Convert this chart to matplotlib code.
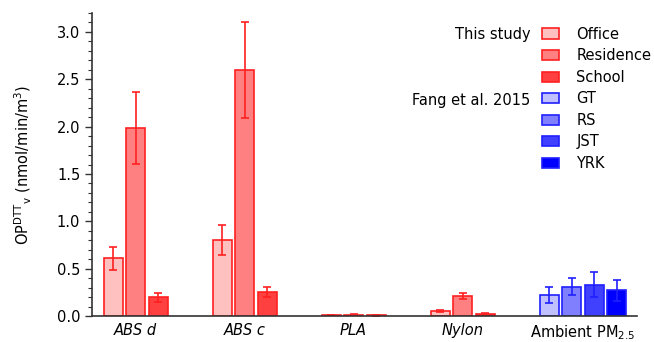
import numpy as np
import matplotlib.pyplot as plt
from matplotlib.ticker import MultipleLocator

# Data
materials = ['ABS d', 'ABS c', 'PLA', 'Nylon']
office = [0.61, 0.80, 0.010, 0.056]
office_err = [0.12, 0.16, 0.004, 0.012]
residence = [1.99, 2.60, 0.015, 0.211]
residence_err = [0.38, 0.51, 0.005, 0.033]
school = [0.197, 0.253, 0.008, 0.021]
school_err = [0.05, 0.05, 0.003, 0.007]

ambient_sites = ['GT', 'RS', 'JST', 'YRK']
ambient = [0.218, 0.31, 0.33, 0.27]
ambient_err = [0.085, 0.087, 0.13, 0.11]

red_fill = ['#ffc0c0', '#ff8080', '#ff4040']
blue_fill = ['#c0c0ff', '#8080ff', '#4040ff', '#0000ff']
red_edge = '#ff2020'
blue_edge = '#2020ff'

plt.rcParams['font.family'] = ['DejaVu Sans']
plt.rcParams['font.size'] = 10.5

fig = plt.figure(figsize=(6.54, 3.42), dpi=100)
ax = fig.add_axes([0.1407, 0.076, 0.8333, 0.886])

w = 0.175
step = 0.206
x = np.arange(len(materials))

handles = []
for k, (vals, errs, name) in enumerate(zip([office, residence, school],
                                            [office_err, residence_err, school_err],
                                            ['Office', 'Residence', 'School'])):
    b = ax.bar(x + (k - 1) * step, vals, w, yerr=errs, color=red_fill[k],
               edgecolor=red_edge, linewidth=1.2, label=name,
               error_kw=dict(ecolor=red_edge, elinewidth=1.2, capsize=3, capthick=1.2))
    handles.append(b)

xa = len(materials)
for k, (v, e, name) in enumerate(zip(ambient, ambient_err, ambient_sites)):
    b = ax.bar(xa + (k - 1) * step, v, w, yerr=e, color=blue_fill[k],
               edgecolor=blue_edge, linewidth=1.2, label=name,
               error_kw=dict(ecolor=blue_edge, elinewidth=1.2, capsize=3, capthick=1.2))
    handles.append(b)

ax.set_xlim(-0.4, 4.6)
ax.set_ylim(0, 3.2)
ax.yaxis.set_major_locator(MultipleLocator(0.5))
ax.yaxis.set_minor_locator(MultipleLocator(0.1))
ax.yaxis.set_major_formatter(plt.FormatStrFormatter('%.1f'))

ax.set_xticks(list(x) + [xa + 0.5 * step])
ax.set_xticklabels(materials + [r'Ambient PM$_{2.5}$'])
for lab in ax.get_xticklabels()[:4]:
    lab.set_style('italic')
ax.tick_params(axis='x', length=0, pad=5)
ax.tick_params(axis='y', which='major', length=5, width=1, color='#333333')
ax.tick_params(axis='y', which='minor', length=3, width=0.8, color='#333333')

for s in ['top', 'right']:
    ax.spines[s].set_visible(False)
for s in ['left', 'bottom']:
    ax.spines[s].set_color('#333333')
    ax.spines[s].set_linewidth(1.2)

ax.set_ylabel(r'OP$^{\mathrm{DTT}}$$_{\mathrm{v}}$ (nmol/min/m$^{3}$)', labelpad=16)

leg = ax.legend(handles=handles, loc='upper left', bbox_to_anchor=(0.826, 0.955),
                frameon=False, handlelength=1.17, handleheight=0.7,
                handletextpad=1.17, labelspacing=0.45, borderaxespad=0,
                borderpad=0)
ax.text(0.804, 0.928, 'This study', transform=ax.transAxes, ha='right', va='center')
ax.text(0.804, 0.712, 'Fang et al. 2015', transform=ax.transAxes, ha='right', va='center')

fig.savefig('out.png', dpi=100)
